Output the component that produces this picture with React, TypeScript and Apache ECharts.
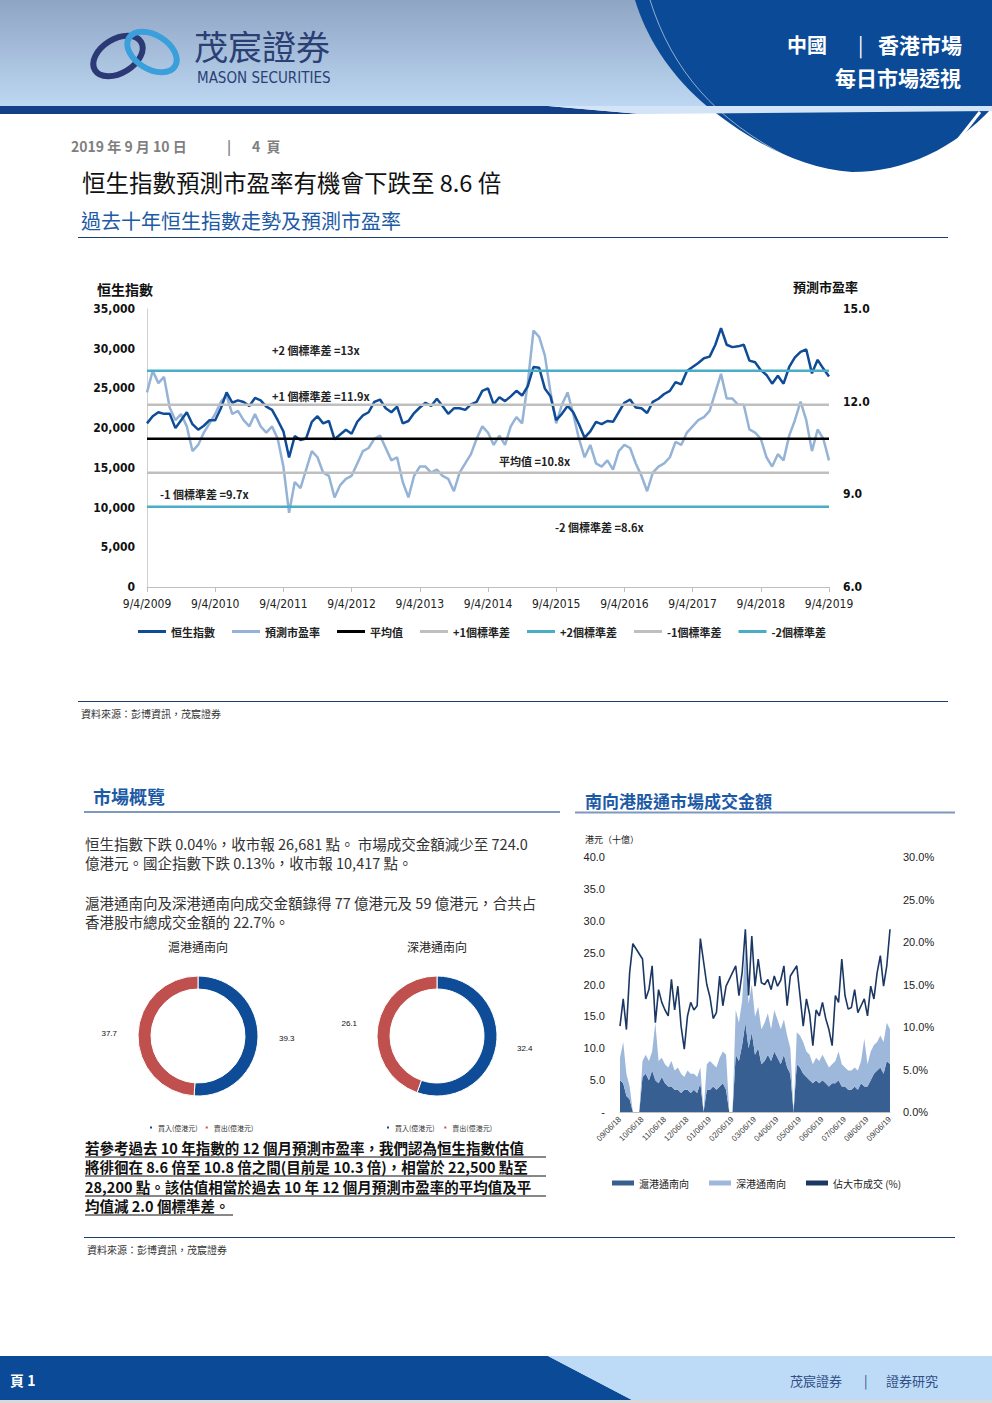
import React, { useEffect, useRef } from "react";
import * as echarts from "echarts";

const CJK = '"Noto Sans CJK TC", "Noto Sans CJK SC", sans-serif';
const NARROW = '"Liberation Sans Narrow", "DejaVu Sans Condensed", "Liberation Sans", sans-serif';
const SANS = '"Liberation Sans", "DejaVu Sans", sans-serif';

// ---------------- Main chart data (monthly, Sep 2009 - Sep 2019) ----------------
const HSI = [
  20600, 21500, 22000, 21800,
  21800, 20000, 21000, 22000, 20500, 19800, 20300, 21000, 21000, 22500, 24500, 23200,
  23500, 23300, 22800, 23800, 23500, 22700, 22300, 21000, 19600, 16300, 19000, 18500,
  18700, 20800, 21500, 20600, 20900, 18600, 19200, 19800, 19300, 20800, 21600, 22000,
  23300, 23600, 22500, 22000, 22700, 20600, 20900, 21900, 22600, 23200, 22800, 23700,
  22800, 21800, 22500, 22500, 22300, 23000, 23300, 24700, 25000, 23000, 23900, 23400,
  24000, 24700, 24100, 25300, 27700, 27600, 25000, 24000, 21000, 21800, 22800, 22000,
  20500, 18800, 19600, 20800, 20500, 20900, 20800, 22000, 23200, 23600, 22600, 22500,
  21900, 23300, 23700, 24300, 24700, 25800, 25500, 27200, 27700, 28200, 28800, 29000,
  30500, 32600, 30500, 30200, 30300, 30500, 28500, 28300, 27300, 26700, 25600, 26600,
  25600, 27700, 28900, 29600, 29900, 26900, 28600, 27500, 26500,
];
const PE = [
  12.3, 13.0, 12.6, 12.8, 11.8, 11.4, 11.6, 11.2, 10.4, 10.6, 11.0, 11.3,
  11.6, 12.0, 12.2, 11.6, 11.7, 11.4, 11.2, 11.6, 11.2, 11.0, 11.2, 10.8,
  9.9, 8.4, 9.4, 9.2, 9.8, 10.4, 10.2, 9.7, 9.6, 8.9, 9.3, 9.5,
  9.6, 10.0, 10.4, 10.5, 10.8, 10.9, 10.5, 10.1, 10.2, 9.4, 8.9, 9.6,
  9.9, 9.9, 9.7, 9.8, 9.6, 9.5, 9.1, 9.7, 10.0, 10.3, 10.8, 11.2,
  11.0, 10.6, 10.9, 10.6, 11.2, 11.5, 11.3, 12.6, 14.3, 14.1, 13.5, 12.3,
  11.3, 11.9, 12.3, 11.6, 10.8, 10.2, 10.6, 10.0, 9.9, 10.1, 9.8, 10.4,
  10.6, 10.5, 10.0, 9.6, 9.1, 9.7, 9.9, 10.0, 10.2, 10.7, 10.6, 11.0,
  11.2, 11.4, 11.5, 11.7, 12.3, 12.9, 12.1, 12.1, 11.9, 11.9, 11.1, 11.0,
  10.8, 10.2, 9.9, 10.3, 10.1, 10.9, 11.4, 12.0, 11.4, 10.4, 11.1, 10.8,
  10.1,
];
const MEAN = 10.8;
const PLUS1 = 11.9;
const PLUS2 = 13.0;
const MINUS1 = 9.7;
const MINUS2 = 8.6;
const MAIN_TICK_LABELS = [
  "9/4/2009", "9/4/2010", "9/4/2011", "9/4/2012", "9/4/2013", "9/4/2014",
  "9/4/2015", "9/4/2016", "9/4/2017", "9/4/2018", "9/4/2019",
];
const MONTHS: string[] = [];
for (let i = 0; i < HSI.length; i++) {
  const m = ((8 + i) % 12) + 1;
  const y = 2009 + Math.floor((8 + i) / 12);
  MONTHS.push(`${y}-${String(m).padStart(2, "0")}`);
}

// ---------------- Donut data ----------------
const SH_BUY = 39.3;
const SH_SELL = 37.7;
const SZ_BUY = 32.4;
const SZ_SELL = 26.1;

// ---------------- Southbound turnover data ----------------
const SB_SH = [
  5.0, 4.5, 2.5, 2.0, 0, 0, 0,
  5.5, 6.0, 5.0, 6.5, 5.0, 4.5, 5.5,
  4.5, 4.0, 4.0, 3.5, 3.5, 3.0, 3.5,
  3.5, 3.0, 3.5, 3.0, 4.5, 0, 3.5,
  3.5, 4.0, 3.5, 4.0, 4.5, 3.5, 0,
  0, 9.0, 8.0, 10.5, 14.0, 10.0, 12.5,
  9.0, 10.0, 7.5, 8.0, 9.0, 8.0, 9.5,
  8.5, 7.5, 9.0, 7.0, 6.0, 0, 7.5,
  7.0, 6.0, 5.5, 5.0, 4.5, 5.0, 4.5,
  5.0, 4.5, 4.0, 4.5, 4.5, 5.0, 4.0,
  4.0, 3.5, 3.5, 4.0, 3.5, 4.5, 4.0,
  4.0, 5.0, 6.0, 6.5, 7.0, 6.0, 8.0,
  7.5,
];
const SB_SZ = [
  3.5, 6.5, 3.5, 2.0, 0, 0, 0,
  2.5, 3.0, 3.0, 3.0, 9.0, 3.5, 3.0,
  3.0, 3.0, 4.0, 3.0, 3.5, 3.0, 2.0,
  3.0, 3.0, 2.5, 2.5, 2.5, 0, 4.0,
  4.5, 3.5, 3.5, 4.5, 5.0, 5.5, 0,
  0, 7.0, 6.0, 7.0, 12.0, 7.0, 7.5,
  6.0, 6.5, 5.5, 6.0, 6.5, 5.0, 6.5,
  6.0, 5.5, 5.5, 5.0, 4.0, 0, 5.0,
  5.0, 5.0, 4.0, 4.0, 3.0, 3.5, 3.5,
  4.0, 3.5, 3.0, 3.0, 3.5, 4.5, 3.5,
  3.0, 3.0, 3.0, 3.0, 3.0, 3.5, 7.5,
  3.5, 4.5, 4.5, 4.5, 5.0, 5.0, 6.0,
  5.5,
];
const SB_PCT: (number | null)[] = [
  10.1, 13.3, 9.7, 16.4, 19.8, null, null,
  18.0, 13.3, 14.4, 17.2, 10.5, 14.4, 12.9,
  12.0, 11.3, 15.6, 12.0, 14.8, 10.1, 7.4,
  11.3, 12.9, 12.0, 12.5, 20.4, null, 15.0,
  13.5, 11.0, 11.7, 16.0, 12.5, 14.8, null,
  null, 17.2, 13.7, 16.4, 21.5, 13.7, 20.7,
  14.8, 18.0, 15.2, 15.0, 15.6, 14.4, 16.0,
  14.8, 15.5, 17.2, 12.5, 16.0, null, 17.2,
  13.7, 10.1, 13.3, 11.5, 7.8, 12.0, 11.3,
  12.9, 11.0, 9.7, 7.8, 13.7, 12.9, 18.0,
  13.7, 12.1, 12.3, 14.4, 11.7, 12.5, 13.3,
  11.3, 14.8, 13.3, 16.4, 18.4, 14.8, 17.2,
  21.5,
];
const SB_DAYS = [6, 10, 14, 18, 22, 26, 30];
const SB_DATES: string[] = [];
for (let k = 0; k < 12; k++) {
  const mm = ((8 + k) % 12) + 1;
  const yy = 18 + Math.floor((8 + k) / 12);
  for (const d of SB_DAYS) {
    const dd = mm === 2 && d === 30 ? 28 : d;
    SB_DATES.push(`${String(mm).padStart(2, "0")}/${String(dd).padStart(2, "0")}/${yy}`);
  }
}
SB_DATES.push("09/06/19");

// ---------------- Shapes ----------------
echarts.graphic.registerShape(
  "hdrBlue",
  echarts.graphic.extendPath(
    "M635,0 L992,0 L992,108 C955,148 905,172 852,172 C792,168 738,132 702,102 C668,72 646,36 635,0 Z",
    {}
  )
);

const C_NAVY = "#0b4a96";
const C_HEAD = "#1d5aa6";

function txt(text: string, x: number, y: number, size: number, o: any = {}) {
  return {
    type: "text",
    x,
    y,
    z: o.z ?? 5,
    style: {
      text,
      fontSize: size,
      fontFamily: o.family || CJK,
      fontWeight: o.weight || "normal",
      fill: o.fill || "#222",
      align: o.align || "left",
      verticalAlign: "middle",
    },
  };
}
function ln(x1: number, y1: number, x2: number, y2: number, stroke: string, w: number, z = 5) {
  return { type: "line", z, shape: { x1, y1, x2, y2 }, style: { stroke, lineWidth: w } };
}

export default function App() {
  const ref = useRef<HTMLDivElement>(null);
  useEffect(() => {
    if (!ref.current) return;
    const chart = echarts.init(ref.current, null, { renderer: "svg" });

    const refLine = (name: string, value: number, color: string) => ({
      name,
      type: "line",
      xAxisIndex: 0,
      yAxisIndex: 1,
      data: MONTHS.map(() => value),
      symbol: "none",
      lineStyle: { color, width: 2.5 },
      itemStyle: { color },
      z: 4,
    });

    const para1 = [
      "恒生指數下跌 0.04%，收市報 26,681 點。 市場成交金額減少至 724.0",
      "億港元。國企指數下跌 0.13%，收市報 10,417 點。",
    ];
    const para2 = [
      "滬港通南向及深港通南向成交金額錄得 77 億港元及 59 億港元，合共占",
      "香港股市總成交金額的 22.7%。",
    ];
    const boldPara = [
      "若參考過去 10 年指數的 12 個月預測市盈率，我們認為恒生指數估值",
      "將徘徊在 8.6 倍至 10.8 倍之間(目前是 10.3 倍)，相當於 22,500 點至",
      "28,200 點。該估值相當於過去 10 年 12 個月預測市盈率的平均值及平",
      "均值減 2.0 個標準差。",
    ];
    const boldEnds = [546, 546, 546, 233];
    const boldYs = [1147, 1166, 1186, 1205];

    const elements: any[] = [
      // header background
      {
        type: "rect",
        z: 0,
        shape: { x: 0, y: 0, width: 992, height: 106 },
        style: {
          fill: new echarts.graphic.LinearGradient(0, 0, 0, 1, [
            { offset: 0, color: "#8ea5c3" },
            { offset: 1, color: "#bdd7f2" },
          ]),
        },
      },
      { type: "hdrBlue", z: 1, x: 0, y: 0, style: { fill: C_NAVY } },
      {
        type: "bezierCurve",
        z: 2,
        shape: { x1: 650, y1: 0, x2: 790, y2: 158, cpx1: 672, cpy1: 70, cpx2: 715, cpy2: 120 },
        style: { stroke: "rgba(255,255,255,0.55)", lineWidth: 1, fill: "none" },
      },
      {
        type: "polygon",
        z: 2,
        shape: { points: [[0, 106], [548, 106], [640, 114], [0, 114]] },
        style: { fill: "#123f88" },
      },
      {
        type: "polygon",
        z: 2,
        shape: { points: [[548, 106], [992, 106], [992, 111], [640, 114]] },
        style: { fill: "#d3e4f6" },
      },
      ln(980, 112, 958, 140, "#ffffff", 3, 3),
      // logo
      {
        type: "ellipse",
        z: 3,
        x: 118,
        y: 56,
        rotation: 0.55,
        shape: { cx: 0, cy: 0, rx: 27, ry: 17 },
        style: { fill: "none", stroke: "#2b3a75", lineWidth: 6 },
      },
      {
        type: "ellipse",
        z: 3,
        x: 152,
        y: 52,
        rotation: -0.55,
        shape: { cx: 0, cy: 0, rx: 27, ry: 17 },
        style: { fill: "none", stroke: "#3a9fda", lineWidth: 6 },
      },
      txt("茂宸證券", 194, 45, 34, { fill: "#2b3f74", z: 3 }),
      txt("MASON SECURITIES", 197, 78, 15, { fill: "#2b3f74", family: NARROW, z: 3 }),
      txt("中國", 787, 44, 20, { fill: "#ffffff", weight: "bold", z: 3 }),
      txt("|", 858, 44, 20, { fill: "#ffffff", z: 3 }),
      txt("香港市場", 878, 44, 21, { fill: "#ffffff", weight: "bold", z: 3 }),
      txt("每日市場透視", 835, 77, 21, { fill: "#ffffff", weight: "bold", z: 3 }),
      // date / titles
      txt("2019 年 9 月 10 日", 71, 146, 14, { fill: "#7f7f7f", weight: "bold" }),
      txt("|", 227, 146, 14, { fill: "#7f7f7f", weight: "bold" }),
      txt("4  頁", 252, 146, 14, { fill: "#7f7f7f", weight: "bold" }),
      txt("恒生指數預測市盈率有機會下跌至 8.6 倍", 82, 182, 23.5, { fill: "#111" }),
      txt("過去十年恒生指數走勢及預測市盈率", 81, 220, 20, { fill: C_HEAD }),
      ln(78, 237.5, 948, 237.5, "#1f3d6b", 1),
      // main chart titles
      txt("恒生指數", 97, 289, 14, { weight: "bold", fill: "#111" }),
      txt("預測市盈率", 793, 286, 13, { weight: "bold", fill: "#111" }),
      txt("+2 個標準差 =13x", 272, 350, 11, { weight: "bold", fill: "#222", z: 1 }),
      txt("+1 個標準差 =11.9x", 272, 396, 11, { weight: "bold", fill: "#222", z: 1 }),
      txt("平均值 =10.8x", 499, 461, 11, { weight: "bold", fill: "#222", z: 1 }),
      txt("-1 個標準差 =9.7x", 160, 494, 11, { weight: "bold", fill: "#222", z: 1 }),
      txt("-2 個標準差 =8.6x", 555, 527, 11, { weight: "bold", fill: "#222", z: 1 }),
      ln(78, 701.5, 948, 701.5, "#1f3d6b", 1),
      txt("資料來源：彭博資訊，茂宸證券", 81, 713, 10, { fill: "#333" }),
      // section headings
      txt("市場概覽", 93, 796, 18, { weight: "bold", fill: C_HEAD }),
      ln(84, 812, 560, 812, "#7f98bd", 2),
      txt("南向港股通市場成交金額", 585, 800, 17, { weight: "bold", fill: C_HEAD }),
      ln(575, 812.5, 955, 812.5, "#7f98bd", 2),
      // paragraphs
      txt(para1[0], 85, 843, 14.5, { fill: "#333" }),
      txt(para1[1], 85, 862, 14.5, { fill: "#333" }),
      txt(para2[0], 85, 902, 14.5, { fill: "#333" }),
      txt(para2[1], 85, 921, 14.5, { fill: "#333" }),
      txt("滬港通南向", 198, 946, 12, { fill: "#222", align: "center" }),
      txt("深港通南向", 437, 946, 12, { fill: "#222", align: "center" }),
      // right chart
      txt("港元（十億）", 585, 839, 9, { fill: "#222" }),
      // bottom
      ln(84, 1237.5, 955, 1237.5, "#1f3d6b", 1),
      txt("資料來源：彭博資訊，茂宸證券", 87, 1249, 10, { fill: "#333" }),
      // footer
      {
        type: "polygon",
        z: 1,
        shape: { points: [[0, 1356], [548, 1356], [632, 1400], [0, 1400]] },
        style: { fill: C_NAVY },
      },
      {
        type: "polygon",
        z: 1,
        shape: { points: [[548, 1356], [992, 1356], [992, 1400], [632, 1400]] },
        style: { fill: "#bddaf6" },
      },
      { type: "rect", z: 1, shape: { x: 0, y: 1400, width: 992, height: 3 }, style: { fill: "#d9d9d9" } },
      txt("頁 1", 10, 1380, 14, { fill: "#ffffff", weight: "bold" }),
      txt("茂宸證券", 790, 1380, 13, { fill: "#2f4e86" }),
      txt("|", 864, 1380, 13, { fill: "#2f4e86" }),
      txt("證券研究", 886, 1380, 13, { fill: "#2f4e86" }),
    ];
    boldPara.forEach((t, i) => {
      elements.push(txt(t, 85, boldYs[i], 14.5, { weight: "bold", fill: "#111" }));
      elements.push(ln(85, boldYs[i] + 10, boldEnds[i], boldYs[i] + 10, "#111", 1));
    });

    const option: any = {
      animation: false,
      backgroundColor: "#ffffff",
      textStyle: { fontFamily: CJK },
      graphic: { elements },
      grid: [
        { left: 147, top: 309, width: 682, height: 278, containLabel: false },
        { left: 620, top: 857, width: 270, height: 255, containLabel: false },
      ],
      legend: [
        {
          left: 133,
          top: 621,
          itemWidth: 28,
          itemHeight: 3,
          itemGap: 17,
          icon: "rect",
          textStyle: { fontSize: 11, fontWeight: "bold", color: "#222", fontFamily: CJK },
          data: ["恒生指數", "預測市盈率", "平均值", "+1個標準差", "+2個標準差", "-1個標準差", "-2個標準差"],
        },
        {
          left: 143,
          top: 1119,
          itemWidth: 4,
          itemHeight: 4,
          itemGap: 6,
          icon: "rect",
          textStyle: { fontSize: 7, color: "#333", fontFamily: CJK },
          data: ["買入(億港元)", "賣出(億港元)"],
        },
        {
          left: 380,
          top: 1119,
          itemWidth: 4,
          itemHeight: 4,
          itemGap: 6,
          icon: "rect",
          textStyle: { fontSize: 7, color: "#333", fontFamily: CJK },
          data: ["買入(億港元) ", "賣出(億港元) "],
        },
        {
          left: 607,
          top: 1173,
          itemWidth: 22,
          itemHeight: 5,
          itemGap: 20,
          icon: "rect",
          textStyle: { fontSize: 10, color: "#222", fontFamily: CJK },
          data: ["滬港通南向", "深港通南向", "佔大市成交 (%)"],
        },
      ],
      xAxis: [
        {
          type: "category",
          gridIndex: 0,
          data: MONTHS,
          boundaryGap: false,
          axisLine: { lineStyle: { color: "#bfbfbf", width: 1 } },
          axisTick: { show: true, interval: 11, length: 5, lineStyle: { color: "#bfbfbf" } },
          axisLabel: {
            interval: 11,
            margin: 11,
            fontSize: 12,
            color: "#222",
            fontFamily: NARROW,
            formatter: (_v: string, i: number) => MAIN_TICK_LABELS[Math.round(i / 12)] ?? "",
          },
          splitLine: { show: false },
        },
        {
          type: "category",
          gridIndex: 1,
          data: SB_DATES,
          boundaryGap: false,
          axisLine: { lineStyle: { color: "#bfbfbf", width: 1 } },
          axisTick: { show: false },
          axisLabel: { interval: 6, rotate: 45, fontSize: 8, color: "#404040", fontFamily: SANS, margin: 6 },
          splitLine: { show: false },
        },
      ],
      yAxis: [
        {
          type: "value",
          gridIndex: 0,
          min: 0,
          max: 35000,
          interval: 5000,
          axisLine: { show: true, lineStyle: { color: "#d0d0d0" } },
          axisTick: { show: false },
          splitLine: { show: false },
          axisLabel: {
            fontSize: 12,
            fontWeight: "bold",
            color: "#111",
            fontFamily: NARROW,
            margin: 12,
            formatter: (v: number) => v.toLocaleString("en-US"),
          },
        },
        {
          type: "value",
          gridIndex: 0,
          position: "right",
          min: 6,
          max: 15,
          interval: 3,
          axisLine: { show: false },
          axisTick: { show: false },
          splitLine: { show: false },
          axisLabel: {
            fontSize: 12,
            fontWeight: "bold",
            color: "#111",
            fontFamily: NARROW,
            margin: 14,
            formatter: (v: number) => v.toFixed(1),
          },
        },
        {
          type: "value",
          gridIndex: 1,
          min: 0,
          max: 40,
          interval: 5,
          axisLine: { show: false },
          axisTick: { show: false },
          splitLine: { show: false },
          axisLabel: {
            fontSize: 11,
            color: "#222",
            fontFamily: SANS,
            margin: 15,
            formatter: (v: number) => (v === 0 ? "-" : v.toFixed(1)),
          },
        },
        {
          type: "value",
          gridIndex: 1,
          position: "right",
          min: 0,
          max: 30,
          interval: 5,
          axisLine: { show: false },
          axisTick: { show: false },
          splitLine: { show: false },
          axisLabel: {
            fontSize: 11,
            color: "#222",
            fontFamily: SANS,
            margin: 13,
            formatter: (v: number) => v.toFixed(1) + "%",
          },
        },
      ],
      series: [
        {
          name: "預測市盈率",
          type: "line",
          xAxisIndex: 0,
          yAxisIndex: 1,
          data: PE,
          symbol: "none",
          lineStyle: { color: "#95b3d7", width: 2.5 },
          itemStyle: { color: "#95b3d7" },
          z: 2,
        },
        {
          name: "恒生指數",
          type: "line",
          xAxisIndex: 0,
          yAxisIndex: 0,
          data: HSI,
          symbol: "none",
          lineStyle: { color: "#0f4c97", width: 2.5 },
          itemStyle: { color: "#0f4c97" },
          z: 3,
        },
        refLine("平均值", MEAN, "#000000"),
        refLine("+1個標準差", PLUS1, "#bfbfbf"),
        refLine("+2個標準差", PLUS2, "#4bacc6"),
        refLine("-1個標準差", MINUS1, "#bfbfbf"),
        refLine("-2個標準差", MINUS2, "#4bacc6"),
        {
          type: "pie",
          center: [198, 1036],
          radius: [47, 60],
          startAngle: 90,
          clockwise: true,
          itemStyle: { borderColor: "#ffffff", borderWidth: 1 },
          label: { show: true, position: "outside", formatter: "{c}", fontSize: 8, color: "#111", fontFamily: SANS },
          labelLine: { show: false, length: 12, length2: 4 },
          data: [
            { name: "買入(億港元)", value: SH_BUY, itemStyle: { color: "#0f4c97" } },
            { name: "賣出(億港元)", value: SH_SELL, itemStyle: { color: "#c0504d" } },
          ],
        },
        {
          type: "pie",
          center: [437, 1036],
          radius: [47, 60],
          startAngle: 90,
          clockwise: true,
          itemStyle: { borderColor: "#ffffff", borderWidth: 1 },
          label: { show: true, position: "outside", formatter: "{c}", fontSize: 8, color: "#111", fontFamily: SANS },
          labelLine: { show: false, length: 12, length2: 4 },
          data: [
            { name: "買入(億港元) ", value: SZ_BUY, itemStyle: { color: "#0f4c97" } },
            { name: "賣出(億港元) ", value: SZ_SELL, itemStyle: { color: "#c0504d" } },
          ],
        },
        {
          name: "滬港通南向",
          type: "line",
          xAxisIndex: 1,
          yAxisIndex: 2,
          stack: "sb",
          data: SB_SH,
          symbol: "none",
          lineStyle: { width: 0 },
          areaStyle: { color: "#385f92", opacity: 1 },
          itemStyle: { color: "#385f92" },
        },
        {
          name: "深港通南向",
          type: "line",
          xAxisIndex: 1,
          yAxisIndex: 2,
          stack: "sb",
          data: SB_SZ,
          symbol: "none",
          lineStyle: { width: 0 },
          areaStyle: { color: "#9db8db", opacity: 1 },
          itemStyle: { color: "#9db8db" },
        },
        {
          name: "佔大市成交 (%)",
          type: "line",
          xAxisIndex: 1,
          yAxisIndex: 3,
          data: SB_PCT,
          connectNulls: true,
          symbol: "none",
          lineStyle: { color: "#1c3763", width: 1.6 },
          itemStyle: { color: "#1c3763" },
          z: 4,
        },
      ],
    };
    chart.setOption(option);
    return () => chart.dispose();
  }, []);

  return (
    <div
      ref={ref}
      style={{ position: "absolute", left: 0, top: 0, width: 992, height: 1403, background: "#ffffff" }}
    />
  );
}
